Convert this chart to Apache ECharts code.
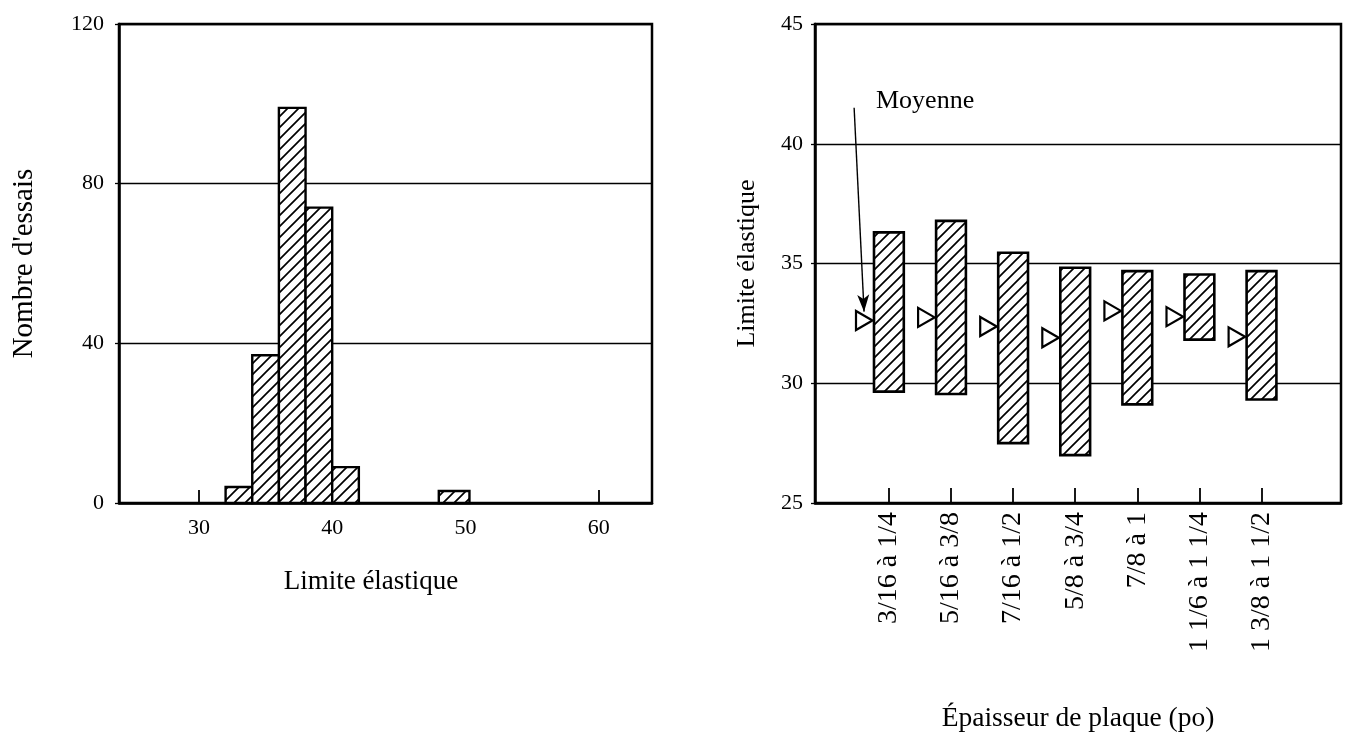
<!DOCTYPE html>
<html><head><meta charset="utf-8">
<script src="https://cdn.jsdelivr.net/npm/echarts@6/dist/echarts.min.js"></script>
<style>html,body{margin:0;padding:0;background:#fff}#c{width:1349px;height:749px}</style>
</head><body><div id="c"></div><script>
// ---- Left panel: histogram ----
const binLeft  = [32, 34, 36, 38, 40, 48];
const binRight = [34, 36, 38, 40, 42, 50.3];
const counts   = [4, 37, 99, 74, 9, 3];
const histTicks = [30, 40, 50, 60];
// ---- Right panel: range by plate thickness ----
const thickness = ['3/16 à 1/4','5/16 à 3/8','7/16 à 1/2','5/8 à 3/4','7/8 à 1','1 1/6 à 1 1/4','1 3/8 à 1 1/2'];
const yieldHigh = [36.3, 36.78, 35.45, 34.82, 34.68, 34.54, 34.68];
const yieldLow  = [29.65, 29.55, 27.5, 27.0, 29.12, 31.82, 29.32];
const yieldMean = [32.62, 32.75, 32.37, 31.9, 33.02, 32.78, 31.94];
const thicknessTicks = thickness.map((_, i) => i);
const arrowFrom = [-0.56, 41.5];
const arrowTo = [-0.40, 32.99];

const FONT = '"Liberation Serif", "Times New Roman", serif';

function hatch(s) {
  const c = document.createElement('canvas');
  c.width = s; c.height = s;
  const g = c.getContext('2d');
  g.fillStyle = '#fff'; g.fillRect(0, 0, s, s);
  g.strokeStyle = '#000'; g.lineWidth = 1.7;
  g.beginPath();
  g.moveTo(-1, s + 1); g.lineTo(s + 1, -1);
  g.moveTo(-2, 2); g.lineTo(2, -2);
  g.moveTo(s - 2, s + 2); g.lineTo(s + 2, s - 2);
  g.stroke();
  return c;
}
const pattern = { image: hatch(11), repeat: 'repeat' };

const axisLineStyle = { color: '#000', width: 2.5 };
const labelStyle = { color: '#000', fontFamily: FONT, fontSize: 22 };
const nameStyle = { color: '#000', fontFamily: FONT, fontSize: 27 };

const chart = echarts.init(document.getElementById('c'));
chart.setOption({
  backgroundColor: '#fff',
  animation: false,
  grid: [
    { left: 119, width: 533, top: 24, height: 479, show: true, borderColor: '#000', borderWidth: 2.5, containLabel: false },
    { left: 815, width: 526, top: 24, height: 479, show: true, borderColor: '#000', borderWidth: 2.5, containLabel: false }
  ],
  xAxis: [
    {
      gridIndex: 0, type: 'value', min: 24, max: 64,
      axisLine: { show: true, onZero: false, lineStyle: axisLineStyle },
      axisTick: { show: true, inside: true, length: 13, customValues: histTicks, lineStyle: { color: '#000', width: 1.8 } },
      axisLabel: { customValues: histTicks, margin: 14, ...labelStyle },
      splitLine: { show: false },
      name: 'Limite élastique', nameLocation: 'middle', nameGap: 65,
      nameTextStyle: { ...nameStyle, padding: [0, 29, 0, 0] }
    },
    {
      gridIndex: 1, type: 'value', min: -1.19, max: 7.28,
      axisLine: { show: true, onZero: false, lineStyle: axisLineStyle },
      axisTick: { show: true, inside: true, length: 15, customValues: thicknessTicks, lineStyle: { color: '#000', width: 1.8 } },
      axisLabel: { customValues: thicknessTicks, rotate: 90, margin: 9, formatter: v => thickness[Math.round(v)], ...labelStyle, fontSize: 28 },
      splitLine: { show: false },
      name: 'Épaisseur de plaque (po)', nameLocation: 'middle', nameGap: 202,
      nameTextStyle: { ...nameStyle, fontSize: 27.5 }
    }
  ],
  yAxis: [
    {
      gridIndex: 0, type: 'value', min: 0, max: 120, interval: 40,
      axisLine: { show: true, onZero: false, lineStyle: axisLineStyle },
      axisTick: { show: true, length: 4, lineStyle: { color: '#000', width: 1.3 } },
      axisLabel: { margin: 15, ...labelStyle },
      splitLine: { show: true, lineStyle: { color: '#000', width: 1.4 } },
      name: "Nombre d'essais", nameLocation: 'middle', nameGap: 80, nameRotate: 90,
      nameTextStyle: { ...nameStyle, fontSize: 29 }
    },
    {
      gridIndex: 1, type: 'value', min: 25, max: 45, interval: 5,
      axisLine: { show: true, onZero: false, lineStyle: axisLineStyle },
      axisTick: { show: true, length: 4, lineStyle: { color: '#000', width: 1.3 } },
      axisLabel: { margin: 12, ...labelStyle },
      splitLine: { show: true, lineStyle: { color: '#000', width: 1.4 } },
      name: 'Limite élastique', nameLocation: 'middle', nameGap: 55, nameRotate: 90,
      nameTextStyle: { ...nameStyle, fontSize: 26 }
    }
  ],
  series: [
    {
      type: 'custom', name: 'Nombre', xAxisIndex: 0, yAxisIndex: 0,
      data: binLeft.map((l, i) => [l, binRight[i], counts[i]]),
      encode: { x: [0, 1], y: 2 },
      renderItem: function (params, api) {
        const a = api.coord([api.value(0), api.value(2)]);
        const b = api.coord([api.value(1), 0]);
        return {
          type: 'rect',
          shape: { x: a[0], y: a[1], width: b[0] - a[0], height: b[1] - a[1] },
          style: { fill: pattern, stroke: '#000', lineWidth: 2.4 }
        };
      }
    },
    {
      type: 'custom', name: 'Plage', xAxisIndex: 1, yAxisIndex: 1,
      data: thickness.map((_, i) => [i, yieldLow[i], yieldHigh[i]]),
      encode: { x: 0, y: [1, 2] },
      renderItem: function (params, api) {
        const w = api.size([1, 0])[0] * 0.48;
        const top = api.coord([api.value(0), api.value(2)]);
        const bot = api.coord([api.value(0), api.value(1)]);
        return {
          type: 'rect',
          shape: { x: top[0] - w / 2, y: top[1], width: w, height: bot[1] - top[1] },
          style: { fill: pattern, stroke: '#000', lineWidth: 2.6 }
        };
      }
    },
    {
      type: 'custom', name: 'Moyenne', xAxisIndex: 1, yAxisIndex: 1,
      data: thickness.map((_, i) => [i, yieldMean[i]]),
      encode: { x: 0, y: 1 },
      z: 3,
      renderItem: function (params, api) {
        const w = api.size([1, 0])[0] * 0.48;
        const p = api.coord([api.value(0), api.value(1)]);
        const tip = p[0] - w / 2 - 1.5;
        return {
          type: 'polygon',
          shape: { points: [[tip, p[1]], [tip - 16.5, p[1] - 9.5], [tip - 16.5, p[1] + 9.5]] },
          style: { fill: '#fff', stroke: '#000', lineWidth: 2.2 }
        };
      },
      markLine: {
        silent: true,
        symbol: ['none', 'arrow'],
        symbolSize: [9, 17],
        label: { show: false },
        lineStyle: { color: '#000', width: 1.4, type: 'solid' },
        data: [[{ coord: arrowFrom }, { coord: arrowTo }]]
      }
    }
  ],
  graphic: [
    { type: 'text', left: 876, top: 88, style: { text: 'Moyenne', fill: '#000', font: '26px ' + FONT } }
  ]
});
</script></body></html>
